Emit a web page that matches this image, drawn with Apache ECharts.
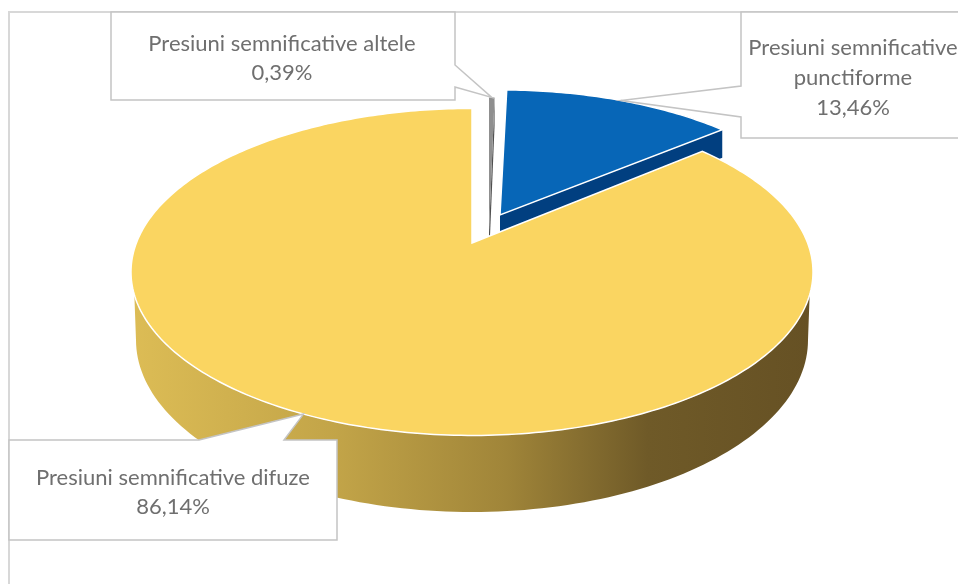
<!DOCTYPE html>
<html><head><meta charset="utf-8">
<style>html,body{margin:0;padding:0;background:#fff}#c{width:958px;height:584px;filter:blur(0.7px)}</style>
<script src="https://cdn.jsdelivr.net/npm/echarts@6/dist/echarts.min.js"></script>
</head><body><div id="c"></div>
<script>
// Data, clockwise from 12 o'clock
const names = ['Presiuni semnificative altele', 'Presiuni semnificative punctiforme', 'Presiuni semnificative difuze'];
const values = [0.39, 13.46, 86.14];
const labelLines = [['Presiuni semnificative altele'], ['Presiuni semnificative', 'punctiforme'], ['Presiuni semnificative difuze']];
const topColors = ['#8f8f8f', '#0766b7', '#fad561'];
const sideColors = ['#4f4f4f', '#013f80', null];

// Layout of the pseudo-3D pie
const W = 958, H = 584;
const E = {cx: 472, cy: 272, rx: 341, ry: 163.5, k: 0.177};
const apexes = [[489, 232], [500, 215], [472, 243]];
const scales = [[0.8, 1], [0.965, 0.93], [1, 1]];
const depths = [28, 28, 0];
const B = {cx: 472, cy: 340, rx: 336, ry: 172};
const boxes = [
  {x0: 111, y0: 12, x1: 455, y1: 100, cx: 282, cy: 44, lh: 29, tipSide: 'right', a: 65, b: 87},
  {x0: 741, y0: 12, x1: 975, y1: 138, cx: 853, cy: 48, lh: 30, tipSide: 'left', a: 86, b: 117},
  {x0: 9, y0: 440, x1: 337, y1: 540, cx: 173, cy: 478, lh: 29, tipSide: 'top', a: 199, b: 284}
];
const TEXT = '#6f6f6f', FONT = 'Lato', FS = 22;

const total = values.reduce((a, b) => a + b, 0);
const bounds = [];
values.reduce((acc, v, i) => { const s = acc, e = acc + v / total * 2 * Math.PI; bounds[i] = [s, e]; return e; }, 0);

// Point on the perspective-projected rim of slice i at clockwise angle th
function rim(i, th) {
  const u = Math.sin(th), v = Math.cos(th), d = 1 + E.k * v;
  const up = u * Math.sqrt(1 - E.k * E.k) / d, vp = (v + E.k) / d;
  const s = scales[i];
  return [apexes[i][0] + s[0] * E.rx * up, apexes[i][1] - s[1] * E.ry * (vp - E.k)];
}
function slicePts(i) {
  const [s, e] = bounds[i], pts = [apexes[i].slice()];
  const n = Math.max(4, Math.ceil((e - s) * 60));
  for (let j = 0; j <= n; j++) pts.push(rim(i, s + (e - s) * j / n));
  return pts;
}
function wallPts() {
  const pts = [], t0 = 0.14;
  for (let j = 0; j <= 120; j++) { const t = t0 + (Math.PI - 2 * t0) * j / 120; pts.push([E.cx + E.rx * Math.cos(t), E.cy + E.ry * Math.sin(t)]); }
  for (let j = 0; j <= 120; j++) { const t = Math.PI - Math.PI * j / 120; pts.push([B.cx + B.rx * Math.cos(t), B.cy + B.ry * Math.sin(t)]); }
  return pts;
}
const wallFill = new echarts.graphic.LinearGradient(0, 0, 1, 0, [
  {offset: 0, color: '#dcbc55'}, {offset: 0.3, color: '#c2a448'}, {offset: 0.55, color: '#a08539'},
  {offset: 0.76, color: '#6f5a28'}, {offset: 1, color: '#665124'}]);

function renderSlice(params, api) {
  const i = params.dataIndex, children = [];
  const e = bounds[i][1];
  if (sideColors[i]) {
    const a = apexes[i], c = rim(i, e), d = depths[i];
    children.push({type: 'polygon', shape: {points: [a, c, [c[0], c[1] + d], [a[0], a[1] + d]]}, style: {fill: sideColors[i]}});
  } else {
    children.push({type: 'polygon', shape: {points: wallPts()}, style: {fill: wallFill}});
  }
  children.push({type: 'polygon', shape: {points: slicePts(i)}, style: {fill: topColors[i], stroke: '#fff', lineWidth: i === 0 ? 0 : 1.5}});
  return {type: 'group', children};
}
function renderBox(params, api) {
  const i = params.dataIndex, b = boxes[i];
  const tip = rim(i, (bounds[i][0] + bounds[i][1]) / 2);
  let pts;
  if (b.tipSide === 'right') pts = [[b.x0, b.y0], [b.x1, b.y0], [b.x1, b.a], tip, [b.x1, b.b], [b.x1, b.y1], [b.x0, b.y1]];
  else if (b.tipSide === 'left') pts = [[b.x0, b.y0], [b.x1, b.y0], [b.x1, b.y1], [b.x0, b.y1], [b.x0, b.b], tip, [b.x0, b.a]];
  else pts = [[b.x0, b.y0], [b.a, b.y0], tip, [b.b, b.y0], [b.x1, b.y0], [b.x1, b.y1], [b.x0, b.y1]];
  const children = [{type: 'polygon', shape: {points: pts}, style: {fill: '#fff', stroke: '#c4c4c4', lineWidth: 1.5}}];
  const pct = api.value(0).toFixed(2).replace('.', ',') + '%';
  labelLines[i].concat([pct]).forEach((t, j) => children.push({
    type: 'text', style: {text: t, x: b.cx, y: b.cy + j * b.lh, align: 'center', verticalAlign: 'middle', fill: TEXT, fontFamily: FONT, fontSize: FS}
  }));
  return {type: 'group', children};
}

const chart = echarts.init(document.getElementById('c'), null, {width: W, height: H});
chart.setOption({
  animation: false,
  backgroundColor: '#fff',
  graphic: [
    {type: 'polyline', silent: true, z: 0, shape: {points: [[9, 584], [9, 12], [958, 12]]}, style: {stroke: '#d8d8d8', lineWidth: 2, fill: null}}
  ],
  series: [
    {type: 'custom', coordinateSystem: 'none', z: 2, silent: true, data: values.map((v, i) => ({name: names[i], value: [v]})), renderItem: renderSlice},
    {type: 'custom', coordinateSystem: 'none', z: 3, silent: true, data: values.map((v, i) => ({name: names[i], value: [v]})), renderItem: renderBox}
  ]
});
</script></body></html>
